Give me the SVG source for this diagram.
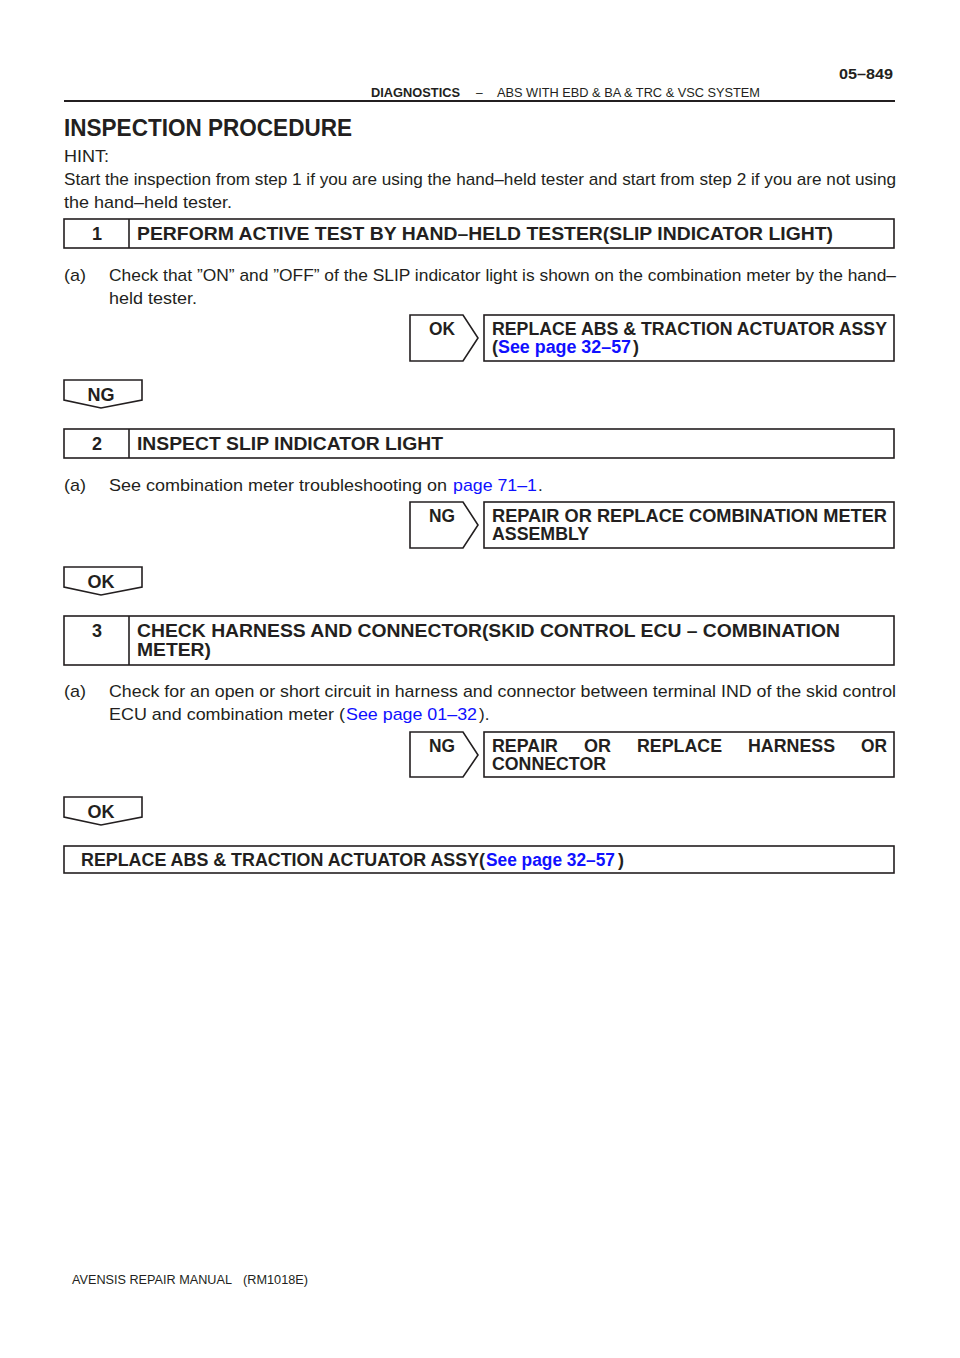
<svg xmlns="http://www.w3.org/2000/svg" width="960" height="1358" viewBox="0 0 960 1358">
<style>
text{font-family:"Liberation Sans",Arial,sans-serif;fill:#231f20}
.b{font-weight:bold}
.body{font-size:17px}
.ttl{font-size:18px;font-weight:bold}
.lnk{fill:#1010ff}
.box{fill:none;stroke:#231f20;stroke-width:1.6}
</style>
<rect width="960" height="1358" fill="#fff"/>
<g id="header">
<text x="839" y="79" class="b" font-size="15" textLength="54" lengthAdjust="spacingAndGlyphs">05–849</text>
<text x="371" y="97" class="b" font-size="12" textLength="89" lengthAdjust="spacingAndGlyphs">DIAGNOSTICS</text>
<text x="476" y="97" font-size="12">–</text>
<text x="497" y="97" font-size="12" textLength="263" lengthAdjust="spacingAndGlyphs">ABS WITH EBD &amp; BA &amp; TRC &amp; VSC SYSTEM</text>
<line x1="64" y1="101" x2="895" y2="101" stroke="#231f20" stroke-width="2"/>
</g>
<g id="intro">
<text x="64" y="136" class="b" font-size="23" textLength="288" lengthAdjust="spacingAndGlyphs">INSPECTION PROCEDURE</text>
<text x="64" y="162" class="body" textLength="45" lengthAdjust="spacingAndGlyphs">HINT:</text>
<text x="64" y="185" class="body" textLength="832" lengthAdjust="spacingAndGlyphs">Start the inspection from step 1 if you are using the hand–held tester and start from step 2 if you are not using</text>
<text x="64" y="208" class="body" textLength="168" lengthAdjust="spacingAndGlyphs">the  hand–held tester.</text>
</g>
<g id="step1">
<rect x="64" y="219" width="830" height="29" class="box"/>
<line x1="129" y1="219" x2="129" y2="248" class="box"/>
<text x="97" y="240" class="ttl" text-anchor="middle">1</text>
<text x="137" y="240" class="ttl" textLength="696" lengthAdjust="spacingAndGlyphs">PERFORM ACTIVE TEST BY HAND–HELD TESTER(SLIP INDICATOR LIGHT)</text>
<text x="64" y="281" class="body" textLength="22" lengthAdjust="spacingAndGlyphs">(a)</text>
<text x="109" y="281" class="body" textLength="787" lengthAdjust="spacingAndGlyphs">Check that ”ON” and ”OFF” of the SLIP indicator light is shown on the combination meter by the hand–</text>
<text x="109" y="304" class="body" textLength="88" lengthAdjust="spacingAndGlyphs">held tester.</text>
</g>
<g id="result1">
<rect x="484" y="315" width="410" height="46" class="box"/>
<text x="492" y="335" class="ttl" textLength="395" lengthAdjust="spacingAndGlyphs">REPLACE ABS &amp; TRACTION ACTUATOR ASSY</text>
<text x="492" y="353" class="ttl">(</text>
<text x="498" y="353" class="ttl lnk" textLength="133" lengthAdjust="spacingAndGlyphs">See page 32–57</text>
<text x="633" y="353" class="ttl">)</text>
</g>
<g id="step2">
<rect x="64" y="429" width="830" height="29" class="box"/>
<line x1="129" y1="429" x2="129" y2="458" class="box"/>
<text x="97" y="450" class="ttl" text-anchor="middle">2</text>
<text x="137" y="450" class="ttl" textLength="306" lengthAdjust="spacingAndGlyphs">INSPECT SLIP INDICATOR LIGHT</text>
<text x="64" y="491" class="body" textLength="22" lengthAdjust="spacingAndGlyphs">(a)</text>
<text x="109" y="491" class="body" textLength="338" lengthAdjust="spacingAndGlyphs">See combination meter troubleshooting on</text>
<text x="453" y="491" class="body lnk" textLength="84" lengthAdjust="spacingAndGlyphs">page 71–1</text>
<text x="538" y="491" class="body">.</text>
</g>
<g id="result2">
<rect x="484" y="502" width="410" height="46" class="box"/>
<text x="492" y="522" class="ttl" textLength="395" lengthAdjust="spacingAndGlyphs">REPAIR OR REPLACE COMBINATION METER</text>
<text x="492" y="540" class="ttl" textLength="97" lengthAdjust="spacingAndGlyphs">ASSEMBLY</text>
</g>
<g id="step3">
<rect x="64" y="616" width="830" height="49" class="box"/>
<line x1="129" y1="616" x2="129" y2="665" class="box"/>
<text x="97" y="637" class="ttl" text-anchor="middle">3</text>
<text x="137" y="637" class="ttl" textLength="703" lengthAdjust="spacingAndGlyphs">CHECK HARNESS AND CONNECTOR(SKID CONTROL ECU – COMBINATION</text>
<text x="137" y="656" class="ttl" textLength="74" lengthAdjust="spacingAndGlyphs">METER)</text>
<text x="64" y="697" class="body" textLength="22" lengthAdjust="spacingAndGlyphs">(a)</text>
<text x="109" y="697" class="body" textLength="787" lengthAdjust="spacingAndGlyphs">Check for an open or short circuit in harness and connector between terminal IND of the skid control</text>
<text x="109" y="720" class="body" textLength="236" lengthAdjust="spacingAndGlyphs">ECU and combination meter (</text>
<text x="346" y="720" class="body lnk" textLength="131" lengthAdjust="spacingAndGlyphs">See page 01–32</text>
<text x="479" y="720" class="body">).</text>
</g>
<g id="result3">
<rect x="484" y="732" width="410" height="45" class="box"/>
<text x="492" y="752" class="ttl" textLength="66" lengthAdjust="spacingAndGlyphs">REPAIR</text>
<text x="584" y="752" class="ttl" textLength="27" lengthAdjust="spacingAndGlyphs">OR</text>
<text x="637" y="752" class="ttl" textLength="85" lengthAdjust="spacingAndGlyphs">REPLACE</text>
<text x="748" y="752" class="ttl" textLength="87" lengthAdjust="spacingAndGlyphs">HARNESS</text>
<text x="861" y="752" class="ttl" textLength="26" lengthAdjust="spacingAndGlyphs">OR</text>
<text x="492" y="770" class="ttl" textLength="114" lengthAdjust="spacingAndGlyphs">CONNECTOR</text>
</g>
<g id="final">
<rect x="64" y="846" width="830" height="27" class="box"/>
<text x="81" y="866" class="ttl" textLength="404" lengthAdjust="spacingAndGlyphs">REPLACE ABS &amp; TRACTION ACTUATOR ASSY(</text>
<text x="486" y="866" class="ttl lnk" textLength="129" lengthAdjust="spacingAndGlyphs">See page 32–57</text>
<text x="618" y="866" class="ttl">)</text>
</g>
<g id="connectors">
<path d="M410,315 H463 L478,338 L463,361 H410 Z" class="box"/>
<text x="429" y="335" class="ttl" textLength="26" lengthAdjust="spacingAndGlyphs">OK</text>
<path d="M64,380 H142 V400 L101,408 L64,400 Z" class="box"/>
<text x="101" y="401" class="ttl" text-anchor="middle">NG</text>
<path d="M410,502 H463 L478,525 L463,548 H410 Z" class="box"/>
<text x="429" y="522" class="ttl" textLength="26" lengthAdjust="spacingAndGlyphs">NG</text>
<path d="M64,567 H142 V587 L101,595 L64,587 Z" class="box"/>
<text x="101" y="588" class="ttl" text-anchor="middle">OK</text>
<path d="M410,732 H463 L478,755 L463,777 H410 Z" class="box"/>
<text x="429" y="752" class="ttl" textLength="26" lengthAdjust="spacingAndGlyphs">NG</text>
<path d="M64,797 H142 V817 L101,825 L64,817 Z" class="box"/>
<text x="101" y="818" class="ttl" text-anchor="middle">OK</text>
</g>
<g id="footer">
<text x="72" y="1284" font-size="12.5" textLength="160" lengthAdjust="spacingAndGlyphs">AVENSIS REPAIR MANUAL</text>
<text x="243" y="1284" font-size="12.5" textLength="65" lengthAdjust="spacingAndGlyphs">(RM1018E)</text>
</g>
</svg>
